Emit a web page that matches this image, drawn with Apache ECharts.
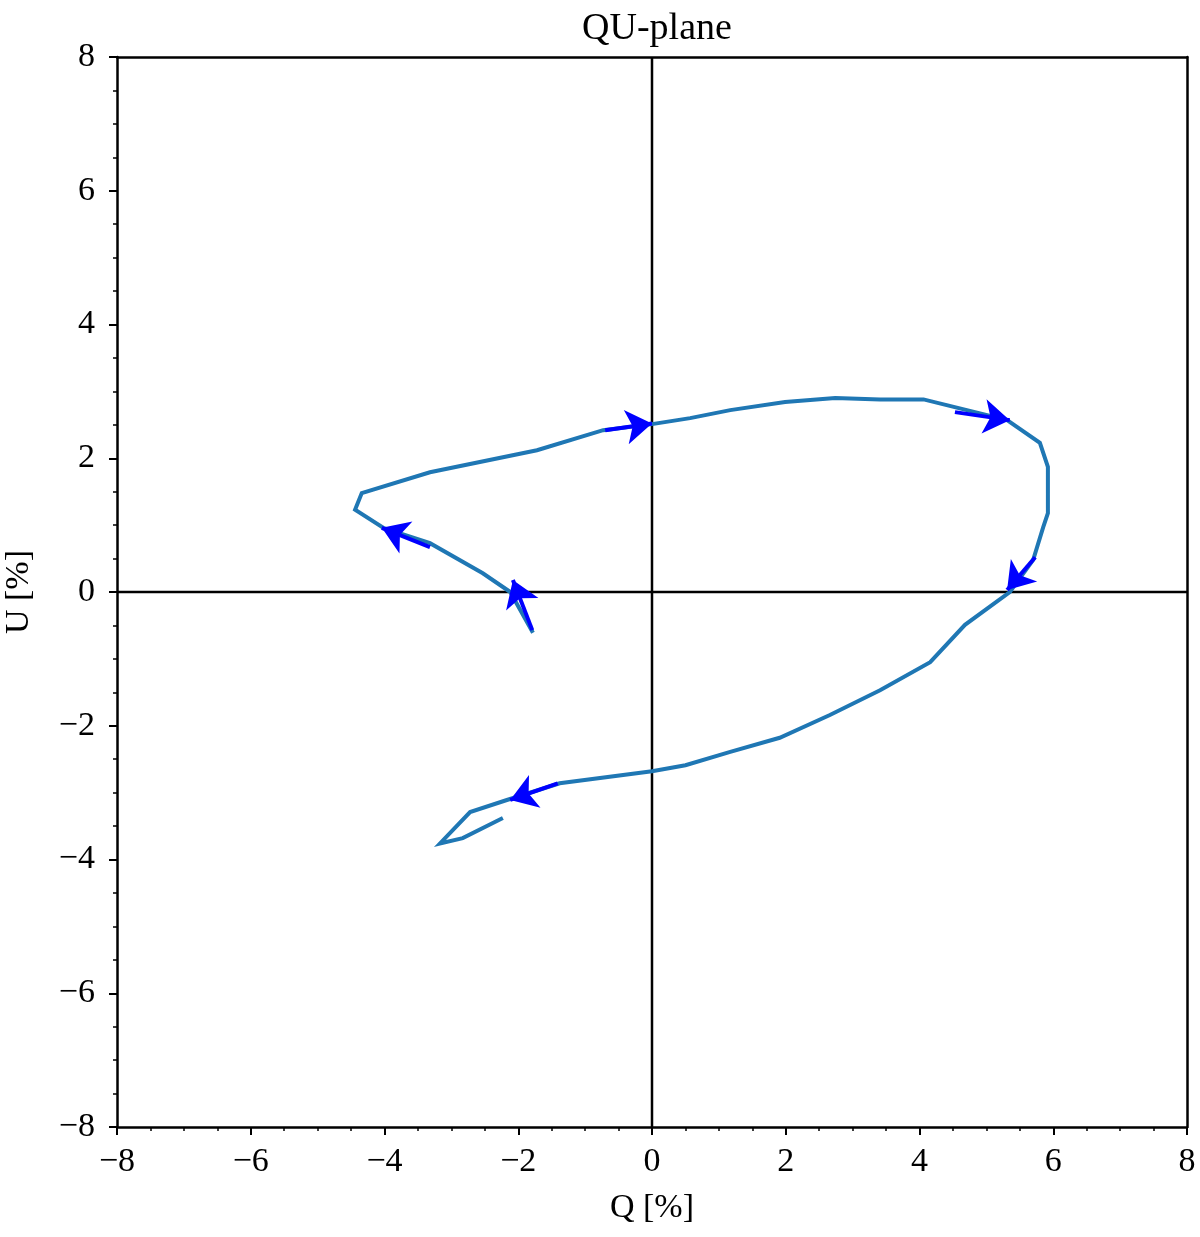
<!DOCTYPE html>
<html>
<head>
<meta charset="utf-8">
<script src="https://cdn.jsdelivr.net/npm/echarts@6/dist/echarts.min.js"></script>
<style>
  html, body { margin: 0; padding: 0; background: #fff; }
  #chart { width: 1200px; height: 1237px; }
</style>
</head>
<body>
<div id="chart"></div>
<script>
// path in the QU plane, in order
const qValues = [-1.78, -2.12, -2.53, -3.32, -4.02, -4.44, -4.34, -3.32, -1.72, -0.73, 0, 0.57, 1.17, 1.99, 2.74, 3.41, 4.06,
  5.31, 5.80, 5.92, 5.92, 5.85, 5.70, 5.35, 4.68, 4.16, 3.41, 2.66, 1.91, 1.17, 0.50, 0, -1.38, -2.17, -2.72, -3.17, -2.83, -2.23];
const uValues = [-0.61, 0.0, 0.28, 0.73, 0.96, 1.23, 1.48, 1.79, 2.12, 2.42, 2.51, 2.60, 2.72, 2.84, 2.90, 2.88, 2.88,
  2.57, 2.23, 1.87, 1.18, 0.97, 0.48, 0.0, -0.49, -1.05, -1.47, -1.84, -2.18, -2.39, -2.59, -2.68, -2.86, -3.11, -3.29, -3.76, -3.68, -3.38];

// direction arrows: [tailQ, tailU, tipQ, tipU]
const arrows = [
  [-1.79, -0.57, -2.08, 0.18],
  [-3.32, 0.67, -4.04, 0.96],
  [-0.70, 2.42, 0.0, 2.52],
  [4.53, 2.69, 5.35, 2.57],
  [5.73, 0.52, 5.31, 0.03],
  [-1.41, -2.86, -2.12, -3.11]
];

const axisTicks = [-8, -6, -4, -2, 0, 2, 4, 6, 8];

const font = 'Liberation Serif';
const chart = echarts.init(document.getElementById('chart'));

const mainAxis = (pos, margin) => ({
  type: 'value',
  position: pos,
  min: axisTicks[0],
  max: axisTicks[axisTicks.length - 1],
  interval: 2,
  splitLine: { show: false },
  axisLine: { show: true, onZero: false, lineStyle: { color: '#000', width: 2.5 } },
  axisTick: { show: true, inside: false, length: 8, lineStyle: { color: '#000', width: 2 } },
  minorTick: { show: true, splitNumber: 4, length: 4, lineStyle: { color: '#000', width: 1.5 } },
  axisLabel: {
    fontFamily: font, fontSize: 34, color: '#000', margin: margin,
    formatter: v => (v < 0 ? '\u2212' + Math.abs(v) : String(v))
  }
});
const frameAxis = (pos) => ({
  type: 'value',
  position: pos,
  min: -8, max: 8,
  axisLine: { show: true, onZero: false, lineStyle: { color: '#000', width: 2.5 } },
  axisTick: { show: false },
  axisLabel: { show: false },
  splitLine: { show: false }
});

const option = {
  animation: false,
  title: {
    text: 'QU-plane',
    left: 652, top: 5, textAlign: 'center',
    textStyle: { fontFamily: font, fontSize: 38, fontWeight: 'normal', color: '#000' }
  },
  grid: { left: 117, right: 13, top: 57, bottom: 110, outerBoundsMode: 'none' },
  xAxis: [
    Object.assign(mainAxis('bottom', 18), {
      name: 'Q [%]', nameLocation: 'middle', nameGap: 64,
      nameTextStyle: { fontFamily: font, fontSize: 34, color: '#000' }
    }),
    frameAxis('top')
  ],
  yAxis: [
    Object.assign(mainAxis('left', 22), {
      name: 'U [%]', nameLocation: 'middle', nameGap: 81, nameRotate: 90,
      nameTextStyle: { fontFamily: font, fontSize: 34, color: '#000' }
    }),
    frameAxis('right')
  ],
  series: [
    {
      type: 'line',
      data: [[-8, 0], [8, 0]],
      symbol: 'none',
      lineStyle: { color: '#000', width: 2.5 },
      z: 1
    },
    {
      type: 'line',
      data: [[0, -8], [0, 8]],
      symbol: 'none',
      lineStyle: { color: '#000', width: 2.5 },
      z: 1
    },
    {
      type: 'line',
      data: qValues.map((q, i) => [q, uValues[i]]),
      symbol: 'none',
      lineStyle: { color: '#1f77b4', width: 4, join: 'miter' },
      z: 3
    },
    {
      type: 'lines',
      coordinateSystem: 'cartesian2d',
      data: arrows.map(a => ({ coords: [[a[0], a[1]], [a[2], a[3]]] })),
      symbol: ['none', 'arrow'],
      symbolSize: [18, 26],
      lineStyle: { color: '#0000ff', width: 4, opacity: 1 },
      z: 4
    }
  ]
};
chart.setOption(option);
</script>
</body>
</html>
